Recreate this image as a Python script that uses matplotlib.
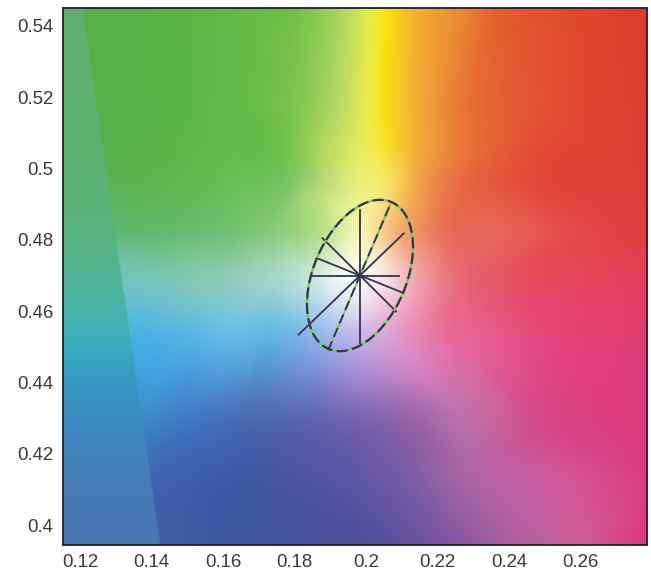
import numpy as np
import matplotlib
matplotlib.use("Agg")
import matplotlib.pyplot as plt
import matplotlib.tri as mtri
from matplotlib.patches import Ellipse

plt.rcParams['font.family'] = ['Liberation Sans', 'DejaVu Sans']

# ---- data ----
x_ticks = [0.12, 0.14, 0.16, 0.18, 0.20, 0.22, 0.24, 0.26]
x_tick_labels = ["0.12", "0.14", "0.16", "0.18", "0.2", "0.22", "0.24", "0.26"]
y_ticks = [0.40, 0.42, 0.44, 0.46, 0.48, 0.50, 0.52, 0.54]
y_tick_labels = ["0.4", "0.42", "0.44", "0.46", "0.48", "0.5", "0.52", "0.54"]
x_range = [0.11525, 0.27856]
y_range = [0.39439, 0.54505]

# background colour samples (u', v', RGB) read from the chromaticity shading
bg_rows_v = [0.54505, 0.5192, 0.5052, 0.4968, 0.4828, 0.4693, 0.4519, 0.4295, 0.4126, 0.39439]
bg_rows_u = [
    [0.11525, 0.1396, 0.1619, 0.1815, 0.1955, 0.2011, 0.2061, 0.2114, 0.2187, 0.2282, 0.2355, 0.2514, 0.27856],
    [0.11525, 0.1396, 0.1619, 0.1815, 0.1927, 0.2011, 0.2053, 0.2109, 0.2193, 0.2291, 0.2514, 0.27856],
    [0.1759, 0.1899, 0.2011, 0.2053, 0.2123, 0.2207, 0.2319],
    [0.11525, 0.1424, 0.1619, 0.1787, 0.1899, 0.1983, 0.2067, 0.2151, 0.2291, 0.2458, 0.27856],
    [0.11525, 0.1424, 0.1619, 0.2374, 0.2654, 0.27856],
    [0.11525, 0.1340, 0.1508, 0.2374, 0.27856],
    [0.11525, 0.1340, 0.1508, 0.1620, 0.2291, 0.2514, 0.27856],
    [0.11525, 0.1340, 0.1508, 0.1675, 0.1843, 0.1983, 0.2123, 0.2291, 0.2514, 0.27856],
    [0.11525, 0.1396, 0.1619, 0.1843, 0.2067, 0.2291, 0.2514, 0.27856],
    [0.11525, 0.1396, 0.1619, 0.1843, 0.2067, 0.2235, 0.2430, 0.2598, 0.27856],
]
bg_rows_rgb = [
    [(88, 176, 72), (88, 178, 70), (100, 185, 70), (120, 195, 72), (190, 220, 90), (230, 235, 70),
     (250, 225, 18), (245, 190, 40), (240, 160, 50), (235, 130, 50), (230, 100, 45), (225, 80, 45), (222, 58, 45)],
    [(88, 176, 75), (88, 178, 72), (100, 186, 72), (130, 198, 80), (185, 218, 100), (238, 235, 70),
     (250, 222, 22), (245, 190, 48), (238, 152, 56), (232, 112, 52), (226, 80, 52), (222, 60, 50)],
    [(110, 192, 75), (190, 220, 95), (240, 236, 85), (249, 226, 45), (245, 185, 55), (238, 145, 60), (232, 105, 55)],
    [(90, 178, 88), (95, 180, 80), (105, 190, 85), (125, 196, 100), (195, 222, 120), (235, 238, 120),
     (246, 225, 95), (242, 160, 75), (232, 100, 65), (226, 75, 60), (222, 62, 55)],
    [(95, 182, 120), (100, 185, 110), (115, 192, 115), (232, 100, 85), (226, 70, 68), (224, 65, 62)],
    [(110, 192, 190), (115, 195, 190), (130, 200, 178), (230, 85, 100), (226, 64, 90)],
    [(70, 175, 228), (70, 175, 228), (85, 178, 228), (100, 185, 228), (230, 100, 150), (228, 70, 125), (225, 60, 115)],
    [(60, 140, 200), (60, 140, 200), (65, 120, 195), (75, 105, 180), (95, 100, 175), (120, 100, 175),
     (150, 100, 170), (190, 110, 165), (215, 70, 135), (222, 58, 125)],
    [(65, 105, 178), (65, 100, 175), (62, 90, 168), (80, 85, 165), (110, 90, 165), (170, 100, 165),
     (205, 90, 155), (222, 60, 130)],
    [(65, 100, 172), (65, 95, 170), (62, 88, 165), (70, 82, 160), (90, 80, 155), (130, 85, 160),
     (175, 95, 160), (205, 90, 150), (222, 55, 130)],
]
# samples on rings around the white point
bg_center_u = [0.1983,
               0.2067, 0.2042, 0.1983, 0.1924, 0.1899, 0.1924, 0.1983, 0.2042,
               0.2151, 0.2102, 0.1983, 0.1864, 0.1815, 0.1864, 0.1983, 0.2102,
               0.2263, 0.2225, 0.2123, 0.1843, 0.1741, 0.1703, 0.1741, 0.1843, 0.1983, 0.2123, 0.2225]
bg_center_v = [0.4693,
               0.4693, 0.4752, 0.4777, 0.4752, 0.4693, 0.4634, 0.4609, 0.4634,
               0.4693, 0.4812, 0.4861, 0.4812, 0.4693, 0.4574, 0.4525, 0.4574,
               0.4693, 0.4833, 0.4936, 0.4936, 0.4833, 0.4693, 0.4553, 0.4450, 0.4412, 0.4450, 0.4553]
bg_center_rgb = [(252, 252, 250),
                 (246, 218, 220), (248, 228, 200), (250, 246, 200), (228, 242, 212),
                 (226, 240, 236), (222, 230, 245), (230, 220, 242), (244, 208, 226),
                 (240, 160, 165), (242, 170, 115), (245, 242, 160), (180, 220, 140),
                 (188, 224, 214), (160, 198, 235), (198, 178, 228), (235, 158, 198),
                 (233, 105, 120), (234, 110, 88), (244, 180, 80), (170, 215, 115), (135, 203, 125),
                 (158, 210, 196), (105, 188, 226), (125, 150, 220), (165, 135, 208), (212, 135, 198),
                 (232, 108, 148)]

# left strip (shading artefact) colours by v'
strip_line_u = [0.1206, 0.1424]   # u' of the strip edge at top and bottom
strip_v = [0.394, 0.412, 0.421, 0.43, 0.44, 0.449, 0.458, 0.468, 0.486, 0.505, 0.545]
strip_colors = [(72, 118, 180), (70, 125, 185), (65, 130, 190), (60, 140, 195),
                (55, 150, 195), (55, 170, 190), (70, 178, 175), (80, 180, 150),
                (90, 178, 120), (92, 176, 112), (98, 175, 112)]

ellipse_center = [0.1983, 0.4700]
ellipse_axes = [0.0224, 0.0130]   # semi-major, semi-minor
ellipse_angle = 67.0

spoke_angles = [0, 44, 67, 90, 135, 158]
spoke_pos = [0.0109, 0.0170, 0.0218, 0.0185, 0.0148, 0.0130]
spoke_neg = [0.0134, 0.0239, 0.0228, 0.0188, 0.0143, 0.0131]

# ---- background ----
pu, pv, pc = [], [], []
for v, us, cs in zip(bg_rows_v, bg_rows_u, bg_rows_rgb):
    for u, c in zip(us, cs):
        pu.append(u); pv.append(v); pc.append(c)
pu += bg_center_u; pv += bg_center_v; pc += bg_center_rgb
pc = np.array(pc, float) / 255.0
tri = mtri.Triangulation(np.array(pu), np.array(pv))

nx, ny = 700, 640
uu = np.linspace(x_range[0], x_range[1], nx)
vv = np.linspace(y_range[0], y_range[1], ny)
U, V = np.meshgrid(uu, vv)
img = np.zeros(U.shape + (3,))
for c in range(3):
    interp = mtri.CubicTriInterpolator(tri, pc[:, c], kind='geom')
    vals = interp(U, V)
    img[..., c] = np.ma.filled(vals, 1.0)
img = np.clip(img, 0, 1)

edge_u = strip_line_u[1] + (V - y_range[0]) / (y_range[1] - y_range[0]) * (strip_line_u[0] - strip_line_u[1])
mask = U < edge_u
sc = np.array(strip_colors, float) / 255.0
strip = np.zeros(U.shape + (3,))
for c in range(3):
    strip[..., c] = np.interp(V, strip_v, sc[:, c])
img[mask] = strip[mask]

# ---- figure ----
fig = plt.figure(figsize=(6.51, 5.75), dpi=100)
ax = fig.add_axes([63 / 651, 30 / 575, 584 / 651, 537 / 575])
ax.imshow(img, extent=[x_range[0], x_range[1], y_range[0], y_range[1]],
          origin='lower', aspect='auto', interpolation='bilinear', zorder=0)

dark = '#33334a'
green = '#74c85e'
cx, cy = ellipse_center
for a, p, n in zip(spoke_angles, spoke_pos, spoke_neg):
    ca, sa = np.cos(np.radians(a)), np.sin(np.radians(a))
    xs = [cx - n * ca, cx + p * ca]
    ys = [cy - n * sa, cy + p * sa]
    if a == 67:
        ax.plot(xs, ys, color=green, lw=1.4, zorder=2, solid_capstyle='butt')
        ax.plot(xs, ys, color=dark, lw=1.4, zorder=3, dashes=(5, 2.5))
    else:
        ax.plot(xs, ys, color=dark, lw=1.3, zorder=3)

ax.add_patch(Ellipse(ellipse_center, 2 * ellipse_axes[0], 2 * ellipse_axes[1],
                     angle=ellipse_angle, fill=False, ec=green, lw=1.6, zorder=4))
ax.add_patch(Ellipse(ellipse_center, 2 * ellipse_axes[0], 2 * ellipse_axes[1],
                     angle=ellipse_angle, fill=False, ec=dark, lw=1.6, zorder=5,
                     linestyle=(0, (5, 2))))

ax.set_xlim(x_range)
ax.set_ylim(y_range)
ax.set_xticks(x_ticks)
ax.set_xticklabels(x_tick_labels)
ax.set_yticks(y_ticks)
ax.set_yticklabels(y_tick_labels)
ax.tick_params(length=0, labelsize=13.4, colors='#3a3a3a')
ax.tick_params(axis='x', pad=6.8)
ax.tick_params(axis='y', pad=7)
for sp in ax.spines.values():
    sp.set_color('#20202e')
    sp.set_linewidth(1.3)

fig.savefig('out.png', dpi=100)
